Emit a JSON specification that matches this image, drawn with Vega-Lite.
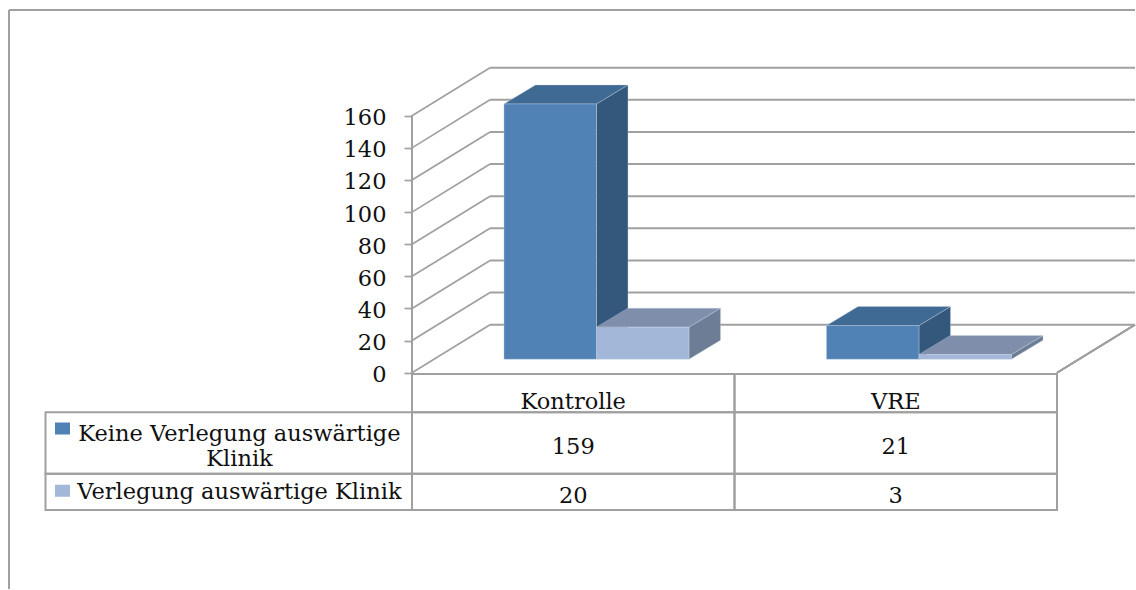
{
  "$schema": "https://vega.github.io/schema/vega-lite/v6.json",
  "autosize": {"type": "fit", "contains": "padding"},
  "padding": 0,
  "width": 1136,
  "height": 590,
  "background": "white",
  "config": {"view": {"stroke": null}, "axisX": {"disable": true}},
  "datasets": {
    "bars": [
      {"category": "Kontrolle", "series": "Keine Verlegung auswärtige Klinik", "value": 159},
      {"category": "VRE", "series": "Keine Verlegung auswärtige Klinik", "value": 21},
      {"category": "Kontrolle", "series": "Verlegung auswärtige Klinik", "value": 20},
      {"category": "VRE", "series": "Verlegung auswärtige Klinik", "value": 3}
    ],
    "ticks": [
      {"value": 0}, {"value": 20}, {"value": 40}, {"value": 60}, {"value": 80},
      {"value": 100}, {"value": 120}, {"value": 140}, {"value": 160}
    ],
    "legendRows": [
      {"series": "Keine Verlegung auswärtige Klinik", "label": "Keine Verlegung auswärtige\nKlinik"},
      {"series": "Verlegung auswärtige Klinik", "label": "Verlegung auswärtige Klinik"}
    ],
    "categories": [{"category": "Kontrolle"}, {"category": "VRE"}]
  },
  "data": {"name": "bars"},
  "transform": [
    {"calculate": "indexof(['Kontrolle','VRE'], datum.category)", "as": "c"},
    {"calculate": "datum.series === 'Verlegung auswärtige Klinik' ? 1 : 0", "as": "s"},
    {"calculate": "datum.c + 0.572 + (datum.s - 1) * 0.2868", "as": "left"},
    {"calculate": "datum.left + 0.2868", "as": "right"},
    {"calculate": "8.35 + datum.value", "as": "top"},
    {"calculate": "datum.s === 0 ? -24.66 : -62.9", "as": "rowTop"},
    {"calculate": "datum.s === 0 ? -62.9 : -85.5", "as": "rowBottom"},
    {"calculate": "datum.s === 0 ? -46 : -76.8", "as": "rowMid"}
  ],
  "resolve": {"scale": {"color": "independent"}},
  "layer": [
    {
      "description": "Side wall gridlines, running back from the value axis",
      "data": {"name": "ticks"},
      "transform": [{"calculate": "datum.value + 29.9", "as": "back"}],
      "mark": {"type": "rule", "color": "#a0a0a0", "strokeWidth": 1.7},
      "encoding": {
        "x": {"datum": 0, "type": "quantitative", "scale": {"domain": [-1.27752, 2.24186], "nice": false, "zero": false}},
        "x2": {"datum": 0.2419},
        "y": {
          "field": "value", "type": "quantitative",
          "scale": {"domain": [-134.68, 232.07], "nice": false, "zero": false},
          "axis": {
            "orient": "left", "offset": -412, "title": null, "values": [0, 20, 40, 60, 80, 100, 120, 140, 160],
            "domain": false, "grid": false, "tickColor": "#a0a0a0", "tickWidth": 1.7, "tickSize": 8,
            "labelFont": "DejaVu Serif", "labelFontSize": 22.5, "labelColor": "#111111", "labelPadding": 18, "labelOverlap": false, "labelOffset": 2
          }
        },
        "y2": {"field": "back"}
      }
    },
    {
      "description": "Back wall gridlines",
      "data": {"name": "ticks"},
      "transform": [{"calculate": "datum.value + 29.9", "as": "back"}],
      "mark": {"type": "rule", "color": "#a0a0a0", "strokeWidth": 2},
      "encoding": {
        "x": {"datum": 0.2419, "type": "quantitative"},
        "x2": {"datum": 2.24186},
        "y": {"field": "back", "type": "quantitative"}
      }
    },
    {
      "description": "Outer chart frame, left edge",
      "mark": {"type": "rule", "color": "#a0a0a0", "strokeWidth": 1.5},
      "encoding": {
        "x": {"datum": -1.2496, "type": "quantitative"},
        "y": {"datum": 225.8, "type": "quantitative"},
        "y2": {"datum": -134.68}
      }
    },
    {
      "description": "Outer chart frame, top edge",
      "mark": {"type": "rule", "color": "#a0a0a0", "strokeWidth": 1.5},
      "encoding": {
        "x": {"datum": -1.2496, "type": "quantitative"},
        "x2": {"datum": 2.24186},
        "y": {"datum": 225.8, "type": "quantitative"}
      }
    },
    {
      "description": "Value axis line",
      "mark": {"type": "rule", "color": "#a0a0a0", "strokeWidth": 2},
      "encoding": {
        "x": {"datum": 0, "type": "quantitative"},
        "y": {"datum": 160, "type": "quantitative"},
        "y2": {"datum": 0}
      }
    },
    {
      "description": "Right edge of the floor",
      "mark": {"type": "rule", "color": "#a0a0a0", "strokeWidth": 1.7},
      "encoding": {
        "x": {"datum": 2, "type": "quantitative"},
        "x2": {"datum": 2.2419},
        "y": {"datum": 0, "type": "quantitative"},
        "y2": {"datum": 29.9}
      }
    },
    {
      "description": "Data table: category header cells",
      "data": {"name": "categories"},
      "transform": [{"calculate": "indexof(['Kontrolle','VRE'], datum.category)", "as": "c"}, {"calculate": "datum.c + 1", "as": "c2"}],
      "mark": {"type": "rect", "fillOpacity": 0, "stroke": "#a0a0a0", "strokeWidth": 2},
      "encoding": {
        "x": {"field": "c", "type": "quantitative"},
        "x2": {"field": "c2"},
        "y": {"datum": -0.81, "type": "quantitative"},
        "y2": {"datum": -24.66}
      }
    },
    {
      "description": "Data table: value cells",
      "transform": [{"calculate": "datum.c + 1", "as": "c2"}],
      "mark": {"type": "rect", "fillOpacity": 0, "stroke": "#a0a0a0", "strokeWidth": 2},
      "encoding": {
        "x": {"field": "c", "type": "quantitative"},
        "x2": {"field": "c2"},
        "y": {"field": "rowTop", "type": "quantitative"},
        "y2": {"field": "rowBottom"}
      }
    },
    {
      "description": "Data table: series label cells",
      "data": {"name": "legendRows"},
      "transform": [
        {"calculate": "datum.series === 'Verlegung auswärtige Klinik' ? -62.9 : -24.66", "as": "rowTop"},
        {"calculate": "datum.series === 'Verlegung auswärtige Klinik' ? -85.5 : -62.9", "as": "rowBottom"}
      ],
      "mark": {"type": "rect", "fillOpacity": 0, "stroke": "#a0a0a0", "strokeWidth": 2},
      "encoding": {
        "x": {"datum": -1.1364, "type": "quantitative"},
        "x2": {"datum": 0},
        "y": {"field": "rowTop", "type": "quantitative"},
        "y2": {"field": "rowBottom"}
      }
    },
    {
      "description": "Right side faces of the columns",
      "transform": [
        {"calculate": "[0, 1]", "as": "t"},
        {"flatten": ["t"]},
        {"calculate": "datum.right + datum.t * 0.0977", "as": "fx"},
        {"calculate": "datum.top + datum.t * 11.83", "as": "fy"},
        {"calculate": "8.35 + datum.t * 11.83", "as": "fy2"},
        {"calculate": "datum.category + datum.series", "as": "key"}
      ],
      "mark": {"type": "area", "orient": "vertical", "stroke": "#c8d4e4", "strokeWidth": 0.7, "strokeOpacity": 0.5},
      "encoding": {
        "x": {"field": "fx", "type": "quantitative"},
        "y": {"field": "fy", "type": "quantitative", "stack": null},
        "y2": {"field": "fy2"},
        "detail": {"field": "key"},
        "color": {"field": "series", "type": "nominal", "legend": null, "scale": {"domain": ["Keine Verlegung auswärtige Klinik", "Verlegung auswärtige Klinik"], "range": ["#34587c", "#6d7d95"]}}
      }
    },
    {
      "description": "Top faces of the columns",
      "transform": [
        {"calculate": "[0, 1]", "as": "t"},
        {"flatten": ["t"]},
        {"calculate": "datum.left + datum.t * 0.0977", "as": "fx"},
        {"calculate": "datum.right + datum.t * 0.0977", "as": "fx2"},
        {"calculate": "datum.top + datum.t * 11.83", "as": "fy"},
        {"calculate": "datum.category + datum.series", "as": "key"}
      ],
      "mark": {"type": "area", "orient": "horizontal", "stroke": "#c8d4e4", "strokeWidth": 0.7, "strokeOpacity": 0.5},
      "encoding": {
        "x": {"field": "fx", "type": "quantitative", "stack": null},
        "x2": {"field": "fx2"},
        "y": {"field": "fy", "type": "quantitative"},
        "detail": {"field": "key"},
        "color": {"field": "series", "type": "nominal", "legend": null, "scale": {"domain": ["Keine Verlegung auswärtige Klinik", "Verlegung auswärtige Klinik"], "range": ["#3f6a93", "#7f8fab"]}}
      }
    },
    {
      "description": "Front faces of the columns",
      "mark": {"type": "rect", "stroke": "#c8d4e4", "strokeWidth": 0.7, "strokeOpacity": 0.6},
      "encoding": {
        "x": {"field": "left", "type": "quantitative"},
        "x2": {"field": "right"},
        "y": {"field": "top", "type": "quantitative"},
        "y2": {"datum": 8.35},
        "color": {"field": "series", "type": "nominal", "legend": null, "scale": {"domain": ["Keine Verlegung auswärtige Klinik", "Verlegung auswärtige Klinik"], "range": ["#5082b5", "#a3b8d8"]}}
      }
    },
    {
      "description": "Data table: category headers",
      "data": {"name": "categories"},
      "transform": [{"calculate": "indexof(['Kontrolle','VRE'], datum.category) + 0.5", "as": "cx"}],
      "mark": {"type": "text", "font": "DejaVu Serif", "fontSize": 22.5, "color": "#111111", "align": "center", "baseline": "middle"},
      "encoding": {
        "x": {"field": "cx", "type": "quantitative"},
        "y": {"datum": -18.2, "type": "quantitative"},
        "text": {"field": "category"}
      }
    },
    {
      "description": "Data table: values",
      "transform": [{"calculate": "datum.c + 0.5", "as": "cx"}],
      "mark": {"type": "text", "font": "DejaVu Serif", "fontSize": 22.5, "color": "#111111", "align": "center", "baseline": "middle"},
      "encoding": {
        "x": {"field": "cx", "type": "quantitative"},
        "y": {"field": "rowMid", "type": "quantitative"},
        "text": {"field": "value", "type": "quantitative"}
      }
    },
    {
      "description": "Data table: series labels",
      "data": {"name": "legendRows"},
      "transform": [{"calculate": "datum.series === 'Verlegung auswärtige Klinik' ? -74 : -38.2", "as": "rowMid"}],
      "mark": {"type": "text", "font": "DejaVu Serif", "fontSize": 22.5, "color": "#111111", "align": "center", "baseline": "middle", "lineBreak": "\n", "lineHeight": 25},
      "encoding": {
        "x": {"datum": -0.535, "type": "quantitative"},
        "y": {"field": "rowMid", "type": "quantitative"},
        "text": {"field": "label"}
      }
    },
    {
      "description": "Data table: series colour keys",
      "data": {"name": "legendRows"},
      "transform": [
        {"calculate": "datum.series === 'Verlegung auswärtige Klinik' ? -69.8 : -31", "as": "keyTop"},
        {"calculate": "datum.series === 'Verlegung auswärtige Klinik' ? -77.3 : -38.5", "as": "keyBottom"}
      ],
      "mark": {"type": "rect"},
      "encoding": {
        "x": {"datum": -1.1070, "type": "quantitative"},
        "x2": {"datum": -1.0605},
        "y": {"field": "keyTop", "type": "quantitative"},
        "y2": {"field": "keyBottom"},
        "color": {"field": "series", "type": "nominal", "legend": null, "scale": {"domain": ["Keine Verlegung auswärtige Klinik", "Verlegung auswärtige Klinik"], "range": ["#5082b5", "#a3b8d8"]}}
      }
    }
  ]
}
